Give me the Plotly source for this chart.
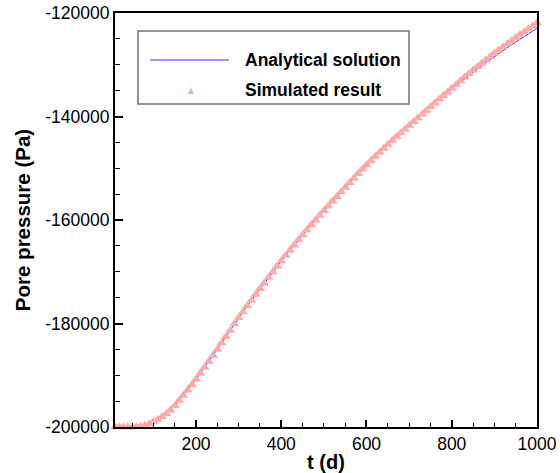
import plotly.graph_objects as go

# ---- data ----
t_days = [10, 20, 30, 40, 50, 60, 70, 80, 90, 100,
          110, 120, 130, 140, 150, 160, 170, 180, 190, 200,
          210, 220, 230, 240, 250, 260, 270, 280, 290, 300,
          310, 320, 330, 340, 350, 360, 370, 380, 390, 400,
          410, 420, 430, 440, 450, 460, 470, 480, 490, 500,
          510, 520, 530, 540, 550, 560, 570, 580, 590, 600,
          610, 620, 630, 640, 650, 660, 670, 680, 690, 700,
          710, 720, 730, 740, 750, 760, 770, 780, 790, 800,
          810, 820, 830, 840, 850, 860, 870, 880, 890, 900,
          910, 920, 930, 940, 950, 960, 970, 980, 990, 1000]

analytical = [-200000, -200000, -200000, -200000, -200000, -199950, -199850, -199650, -199350, -198950,
              -198550, -198000, -197450, -196750, -195900, -194900, -193900, -192900, -191850, -190750,
              -189620, -188480, -187330, -186170, -185000, -183780, -182560, -181340, -180120, -178900,
              -177760, -176630, -175510, -174400, -173300, -172200, -171110, -170030, -168960, -167900,
              -166880, -165870, -164870, -163880, -162900, -161940, -160990, -160050, -159120, -158200,
              -157290, -156390, -155490, -154590, -153700, -152820, -151950, -151080, -150210, -149350,
              -148540, -147740, -146950, -146170, -145400, -144650, -143910, -143180, -142460, -141750,
              -141010, -140280, -139550, -138820, -138100, -137390, -136690, -136000, -135320, -134650,
              -133990, -133330, -132680, -132040, -131400, -130780, -130170, -129570, -128980, -128400,
              -127830, -127270, -126710, -126150, -125600, -125060, -124530, -124000, -123470, -122950]

simulated = [-200000, -200000, -200000, -200000, -200000, -199950, -199850, -199650, -199350, -198950,
             -198550, -198000, -197450, -196750, -195900, -194900, -193900, -192900, -191850, -190750,
             -189620, -188480, -187330, -186170, -185000, -183780, -182560, -181340, -180120, -178900,
             -177760, -176630, -175510, -174400, -173300, -172200, -171110, -170030, -168960, -167900,
             -166880, -165870, -164870, -163880, -162900, -161940, -160990, -160050, -159120, -158200,
             -157290, -156390, -155490, -154590, -153700, -152820, -151950, -151080, -150210, -149350,
             -148540, -147740, -146950, -146170, -145400, -144650, -143910, -143180, -142460, -141750,
             -141010, -140280, -139550, -138820, -138100, -137390, -136690, -136000, -135320, -134550,
             -133840, -133130, -132430, -131740, -131050, -130380, -129720, -129070, -128430, -127800,
             -127180, -126570, -125960, -125350, -124750, -124160, -123630, -123050, -122520, -121950]

x_tickvals = [200, 400, 600, 800, 1000]
x_ticktext = ["200", "400", "600", "800", "1000"]
y_tickvals = [-200000, -180000, -160000, -140000, -120000]
y_ticktext = ["-200000", "-180000", "-160000", "-140000", "-120000"]

line_color = "#3030FF"
marker_color = "#FFA8A8"
font_family = "Liberation Sans, Arial, sans-serif"

fig = go.Figure()
fig.add_trace(go.Scatter(x=t_days, y=analytical, mode="lines", name="Analytical solution",
                         line=dict(color=line_color, width=1), showlegend=False))
fig.add_trace(go.Scatter(x=t_days, y=simulated, mode="markers", name="Simulated result",
                         marker=dict(symbol="triangle-up", size=9, color=marker_color),
                         cliponaxis=False, showlegend=False))

W, H = 560, 473
ml, mr, mt, mb = 115, 23, 13, 46
pw, ph = W - ml - mr, H - mt - mb


def px(xp):
    return (xp - ml) / pw


def py(yp):
    return (H - mb - yp) / ph


# legend drawn as a box with samples
shapes = [
    dict(type="rect", xref="paper", yref="paper", x0=px(138), x1=px(409), y0=py(104), y1=py(31),
         line=dict(color="#707070", width=1.5), fillcolor="white", layer="below"),
    dict(type="line", xref="paper", yref="paper", x0=px(150), x1=px(229), y0=py(60), y1=py(60),
         line=dict(color=line_color, width=1.2)),
]
annotations = [
    dict(xref="paper", yref="paper", x=px(243), y=py(60), text="<b>Analytical solution</b>",
         showarrow=False, xanchor="left", yanchor="middle",
         font=dict(family=font_family, size=17.5, color="black")),
    dict(xref="paper", yref="paper", x=px(243), y=py(90), text="<b>Simulated result</b>",
         showarrow=False, xanchor="left", yanchor="middle",
         font=dict(family=font_family, size=17.5, color="black")),
    dict(xref="paper", yref="paper", x=px(191), y=py(90), text="▲",
         showarrow=False, xanchor="center", yanchor="middle",
         font=dict(family="DejaVu Sans", size=8, color=marker_color)),
]

fig.update_layout(
    width=W, height=H,
    margin=dict(l=ml, r=mr, t=mt, b=mb, pad=0, autoexpand=False),
    paper_bgcolor="white", plot_bgcolor="white",
    font=dict(family=font_family, size=17.5, color="black"),
    shapes=shapes, annotations=annotations,
    showlegend=False,
)
fig.update_xaxes(
    range=[10, 1000], showline=True, linecolor="black", linewidth=2, mirror=True,
    ticks="inside", ticklen=7, tickwidth=1.5, tickcolor="black",
    tickvals=x_tickvals, ticktext=x_ticktext, showgrid=False, zeroline=False, automargin=False,
    minor=dict(ticks="inside", ticklen=4, dtick=50, tick0=0, tickcolor="black", tickwidth=1, showgrid=False),
    title=dict(text="<b>t (d)</b>", font=dict(size=20), standoff=4),
    tickfont=dict(size=17.5),
)
fig.update_yaxes(
    range=[-200000, -120000], showline=True, linecolor="black", linewidth=2, mirror=True,
    ticks="inside", ticklen=8, tickwidth=1.5, tickcolor="black",
    tickvals=y_tickvals, ticktext=y_ticktext, showgrid=False, zeroline=False, automargin=False,
    minor=dict(ticks="inside", ticklen=5, dtick=5000, tick0=-200000, tickcolor="black", tickwidth=1, showgrid=False),
    title=dict(text="<b>Pore pressure (Pa)</b>", font=dict(size=20.5), standoff=9),
    tickfont=dict(size=17.5),
)

fig.write_html("out.html")
